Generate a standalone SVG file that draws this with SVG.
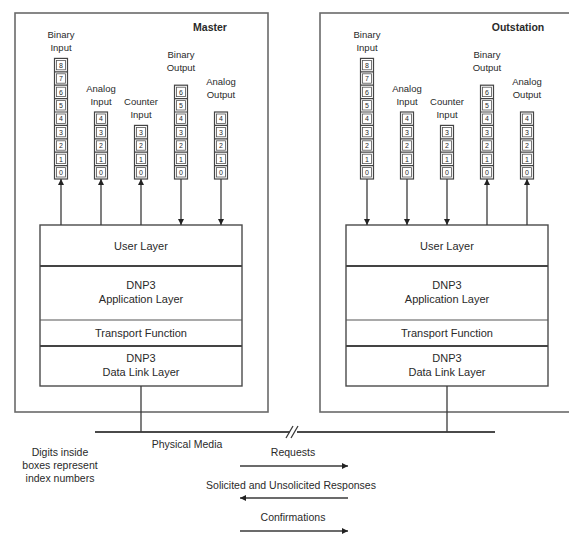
<svg xmlns="http://www.w3.org/2000/svg" xmlns:xlink="http://www.w3.org/1999/xlink" width="569" height="534" viewBox="0 0 569 534">
<style>
text{font-family:"Liberation Sans",Arial,sans-serif;fill:#2a2a2a;text-anchor:middle}
.outer{fill:none;stroke:#6a6a6a;stroke-width:1.6}
.layer{fill:#fff;stroke:#4a4a4a;stroke-width:1.4}
.thick{stroke:#444;stroke-width:2}
.thin{stroke:#555;stroke-width:1.2}
.col{fill:#fff;stroke:#444;stroke-width:1.2}
.cell{fill:#fff;stroke:#555;stroke-width:0.8}
.sep{stroke:#444;stroke-width:1.2}
.dg{font-size:7px}
.lbl{font-size:9.5px}
.ly{font-size:11px}
.title{font-size:10.5px;font-weight:bold}
.note{font-size:10.5px}
.conn{stroke:#3a3a3a;stroke-width:1.3;fill:none}
.media{stroke:#4a4a4a;stroke-width:1.8;fill:none}
</style>
<defs>
<marker id="ah" viewBox="0 0 10 10" refX="10" refY="5" markerUnits="userSpaceOnUse" markerWidth="6" markerHeight="6" orient="auto">
<path d="M0,0 L10,5 L0,10 z" fill="#222"/>
</marker>
<g id="c9">
<rect class="col" width="13" height="120.6"/>
<path class="sep" d="M0,13.4H13M0,26.8H13M0,40.2H13M0,53.6H13M0,67H13M0,80.4H13M0,93.8H13M0,107.2H13"/>
<rect class="cell" x="2" y="2" width="9" height="9.4"/><text class="dg" x="6.5" y="9.4">8</text>
<rect class="cell" x="2" y="15.4" width="9" height="9.4"/><text class="dg" x="6.5" y="22.8">7</text>
<rect class="cell" x="2" y="28.8" width="9" height="9.4"/><text class="dg" x="6.5" y="36.2">6</text>
<rect class="cell" x="2" y="42.2" width="9" height="9.4"/><text class="dg" x="6.5" y="49.6">5</text>
<rect class="cell" x="2" y="55.6" width="9" height="9.4"/><text class="dg" x="6.5" y="63">4</text>
<rect class="cell" x="2" y="69" width="9" height="9.4"/><text class="dg" x="6.5" y="76.4">3</text>
<rect class="cell" x="2" y="82.4" width="9" height="9.4"/><text class="dg" x="6.5" y="89.8">2</text>
<rect class="cell" x="2" y="95.8" width="9" height="9.4"/><text class="dg" x="6.5" y="103.2">1</text>
<rect class="cell" x="2" y="109.2" width="9" height="9.4"/><text class="dg" x="6.5" y="116.6">0</text>
</g>
<g id="c7">
<rect class="col" width="13" height="93.8"/>
<path class="sep" d="M0,13.4H13M0,26.8H13M0,40.2H13M0,53.6H13M0,67H13M0,80.4H13"/>
<rect class="cell" x="2" y="2" width="9" height="9.4"/><text class="dg" x="6.5" y="9.4">6</text>
<rect class="cell" x="2" y="15.4" width="9" height="9.4"/><text class="dg" x="6.5" y="22.8">5</text>
<rect class="cell" x="2" y="28.8" width="9" height="9.4"/><text class="dg" x="6.5" y="36.2">4</text>
<rect class="cell" x="2" y="42.2" width="9" height="9.4"/><text class="dg" x="6.5" y="49.6">3</text>
<rect class="cell" x="2" y="55.6" width="9" height="9.4"/><text class="dg" x="6.5" y="63">2</text>
<rect class="cell" x="2" y="69" width="9" height="9.4"/><text class="dg" x="6.5" y="76.4">1</text>
<rect class="cell" x="2" y="82.4" width="9" height="9.4"/><text class="dg" x="6.5" y="89.8">0</text>
</g>
<g id="c5">
<rect class="col" width="13" height="67"/>
<path class="sep" d="M0,13.4H13M0,26.8H13M0,40.2H13M0,53.6H13"/>
<rect class="cell" x="2" y="2" width="9" height="9.4"/><text class="dg" x="6.5" y="9.4">4</text>
<rect class="cell" x="2" y="15.4" width="9" height="9.4"/><text class="dg" x="6.5" y="22.8">3</text>
<rect class="cell" x="2" y="28.8" width="9" height="9.4"/><text class="dg" x="6.5" y="36.2">2</text>
<rect class="cell" x="2" y="42.2" width="9" height="9.4"/><text class="dg" x="6.5" y="49.6">1</text>
<rect class="cell" x="2" y="55.6" width="9" height="9.4"/><text class="dg" x="6.5" y="63">0</text>
</g>
<g id="c4">
<rect class="col" width="13" height="53.6"/>
<path class="sep" d="M0,13.4H13M0,26.8H13M0,40.2H13"/>
<rect class="cell" x="2" y="2" width="9" height="9.4"/><text class="dg" x="6.5" y="9.4">3</text>
<rect class="cell" x="2" y="15.4" width="9" height="9.4"/><text class="dg" x="6.5" y="22.8">2</text>
<rect class="cell" x="2" y="28.8" width="9" height="9.4"/><text class="dg" x="6.5" y="36.2">1</text>
<rect class="cell" x="2" y="42.2" width="9" height="9.4"/><text class="dg" x="6.5" y="49.6">0</text>
</g>
<g id="stack">
<rect class="layer" x="0" y="0" width="202" height="161"/>
<line class="thick" x1="0" y1="41" x2="202" y2="41"/>
<line class="thin" x1="0" y1="95" x2="202" y2="95"/>
<line class="thick" x1="0" y1="121" x2="202" y2="121"/>
<text class="ly" x="101" y="25">User Layer</text>
<text class="ly" x="101" y="64">DNP3</text>
<text class="ly" x="101" y="78">Application Layer</text>
<text class="ly" x="101" y="112">Transport Function</text>
<text class="ly" x="101" y="137">DNP3</text>
<text class="ly" x="101" y="151">Data Link Layer</text>
</g>
</defs>

<g id="master">
<rect class="outer" x="15" y="13" width="253" height="399"/>
<text class="title" x="210" y="31">Master</text>
</g>
<g id="outstation">
<rect class="outer" x="320" y="13" width="260" height="399"/>
<text class="title" x="518" y="31">Outstation</text>
</g>

<g id="m-binary-input"><text class="lbl" x="61" y="37.5">Binary</text><text class="lbl" x="61" y="51">Input</text><use xlink:href="#c9" x="54.5" y="58.4"/></g>
<g id="m-analog-input"><text class="lbl" x="101" y="92">Analog</text><text class="lbl" x="101" y="105">Input</text><use xlink:href="#c5" x="94.5" y="112"/></g>
<g id="m-counter-input"><text class="lbl" x="141" y="105">Counter</text><text class="lbl" x="141" y="118">Input</text><use xlink:href="#c4" x="134.5" y="125.4"/></g>
<g id="m-binary-output"><text class="lbl" x="181" y="58">Binary</text><text class="lbl" x="181" y="71">Output</text><use xlink:href="#c7" x="174.5" y="85.2"/></g>
<g id="m-analog-output"><text class="lbl" x="221" y="85">Analog</text><text class="lbl" x="221" y="98">Output</text><use xlink:href="#c5" x="214.5" y="112"/></g>
<g id="m-stack"><use xlink:href="#stack" x="40" y="225"/></g>

<g id="o-binary-input"><text class="lbl" x="367" y="37.5">Binary</text><text class="lbl" x="367" y="51">Input</text><use xlink:href="#c9" x="360.5" y="58.4"/></g>
<g id="o-analog-input"><text class="lbl" x="407" y="92">Analog</text><text class="lbl" x="407" y="105">Input</text><use xlink:href="#c5" x="400.5" y="112"/></g>
<g id="o-counter-input"><text class="lbl" x="447" y="105">Counter</text><text class="lbl" x="447" y="118">Input</text><use xlink:href="#c4" x="440.5" y="125.4"/></g>
<g id="o-binary-output"><text class="lbl" x="487" y="58">Binary</text><text class="lbl" x="487" y="71">Output</text><use xlink:href="#c7" x="480.5" y="85.2"/></g>
<g id="o-analog-output"><text class="lbl" x="527" y="85">Analog</text><text class="lbl" x="527" y="98">Output</text><use xlink:href="#c5" x="520.5" y="112"/></g>
<g id="o-stack"><use xlink:href="#stack" x="346" y="225"/></g>

<g id="physical-media">
<path class="media" d="M95,432H290M297,432H495"/>
<path class="conn" d="M286,438L293,426M291,438L298,426"/>
<text class="note" x="187" y="448">Physical Media</text>
</g>
<g id="legend">
<text class="note" x="60" y="456">Digits inside</text>
<text class="note" x="60" y="469">boxes represent</text>
<text class="note" x="60" y="482">index numbers</text>
<text class="note" x="293" y="456">Requests</text>
<text class="note" x="291" y="489">Solicited and Unsolicited Responses</text>
<text class="note" x="293" y="521">Confirmations</text>
</g>

<g id="connectors">
<line class="conn" x1="61" y1="225" x2="61" y2="179" marker-end="url(#ah)"/>
<line class="conn" x1="101" y1="225" x2="101" y2="179" marker-end="url(#ah)"/>
<line class="conn" x1="141" y1="225" x2="141" y2="179" marker-end="url(#ah)"/>
<line class="conn" x1="181" y1="179" x2="181" y2="225" marker-end="url(#ah)"/>
<line class="conn" x1="221" y1="179" x2="221" y2="225" marker-end="url(#ah)"/>
<line class="conn" x1="367" y1="179" x2="367" y2="225" marker-end="url(#ah)"/>
<line class="conn" x1="407" y1="179" x2="407" y2="225" marker-end="url(#ah)"/>
<line class="conn" x1="447" y1="179" x2="447" y2="225" marker-end="url(#ah)"/>
<line class="conn" x1="487" y1="225" x2="487" y2="179" marker-end="url(#ah)"/>
<line class="conn" x1="527" y1="225" x2="527" y2="179" marker-end="url(#ah)"/>
<line class="conn" x1="141" y1="386" x2="141" y2="432"/>
<line class="conn" x1="447" y1="386" x2="447" y2="432"/>
<line class="conn" x1="240" y1="466" x2="348" y2="466" marker-end="url(#ah)"/>
<line class="conn" x1="348" y1="498" x2="240" y2="498" marker-end="url(#ah)"/>
<line class="conn" x1="240" y1="531" x2="348" y2="531" marker-end="url(#ah)"/>
</g>
</svg>
